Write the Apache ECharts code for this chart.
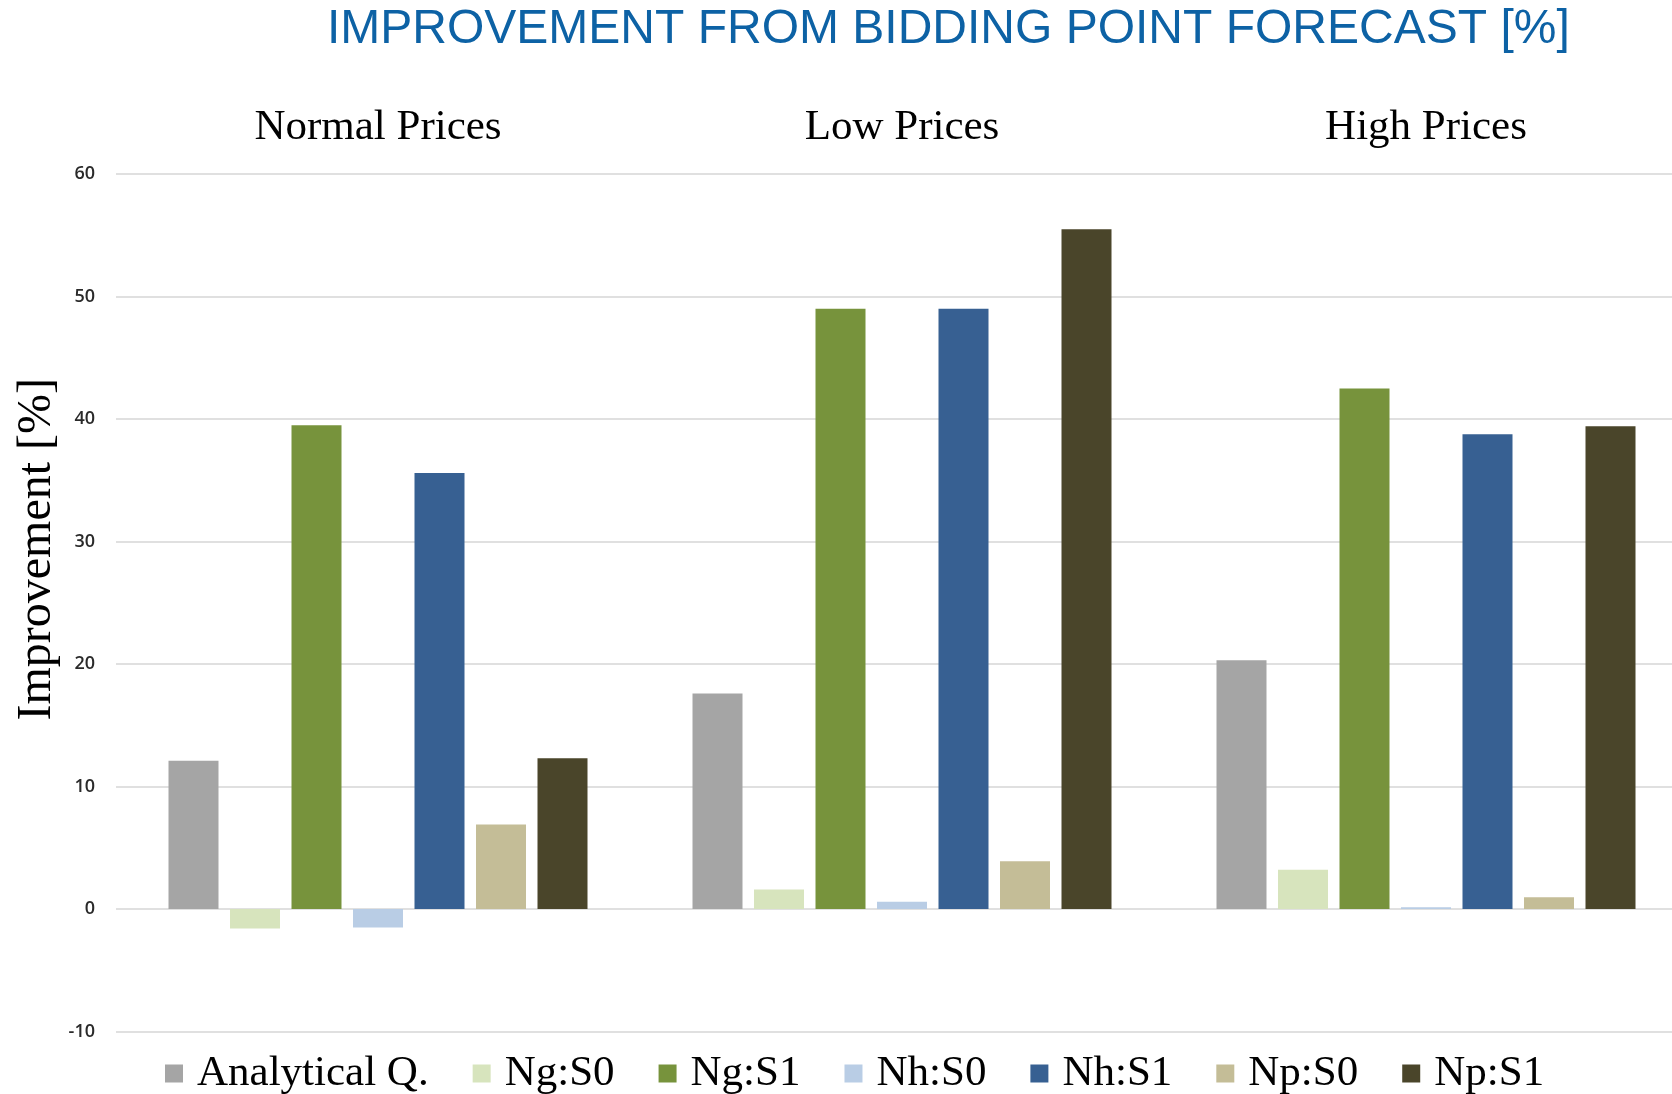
<!DOCTYPE html>
<html>
<head>
<meta charset="utf-8">
<script src="https://cdn.jsdelivr.net/npm/echarts@6/dist/echarts.min.js"></script>
<style>
html,body{margin:0;padding:0;background:#fff;}
#chart{width:1672px;height:1094px;}
</style>
</head>
<body>
<div id="chart"></div>
<script>
var categories = ['Normal Prices', 'Low Prices', 'High Prices'];
var seriesNames = ['Analytical Q.', 'Ng:S0', 'Ng:S1', 'Nh:S0', 'Nh:S1', 'Np:S0', 'Np:S1'];
var analyticalQ = [12.1, 17.6, 20.3];
var ngS0 = [-1.6, 1.6, 3.2];
var ngS1 = [39.5, 49.0, 42.5];
var nhS0 = [-1.5, 0.6, 0.15];
var nhS1 = [35.6, 49.0, 38.75];
var npS0 = [6.9, 3.9, 0.95];
var npS1 = [12.3, 55.5, 39.4];
var colors = ['#a5a5a5', '#d7e4bd', '#77933c', '#b9cde5', '#376092', '#c4bd97', '#4a452a'];
var yMin = -10, yMax = 60, yStep = 10;

var allValues = [analyticalQ, ngS0, ngS1, nhS0, nhS1, npS0, npS1];
var serif = '"Liberation Serif", "Times New Roman", serif';

var chart = echarts.init(document.getElementById('chart'), null, {renderer: 'canvas'});
chart.setOption({
  backgroundColor: '#ffffff',
  animation: false,
  color: colors,
  title: {
    text: 'IMPROVEMENT FROM BIDDING POINT FORECAST [%]',
    left: 322,
    top: 1,
    textStyle: {
      fontFamily: '"Liberation Sans", Arial, sans-serif',
      fontSize: 48,
      fontWeight: 'normal',
      color: '#0d62a5'
    }
  },
  grid: {left: 116, top: 174, width: 1572, height: 857.5, containLabel: false, outerBoundsMode: 'none'},
  legend: {
    data: seriesNames,
    left: 160,
    top: 1047,
    icon: 'rect',
    itemWidth: 18,
    itemHeight: 18,
    itemGap: 44,
    textStyle: {
      fontFamily: serif,
      fontSize: 43,
      color: '#000',
      padding: [0, 0, 0, 9]
    }
  },
  xAxis: {
    type: 'category',
    data: categories,
    position: 'top',
    axisLine: {show: false, onZero: false},
    axisTick: {show: false},
    axisLabel: {
      margin: 25,
      fontFamily: serif,
      fontSize: 43,
      color: '#000'
    }
  },
  yAxis: {
    type: 'value',
    min: yMin,
    max: yMax,
    interval: yStep,
    axisLine: {show: false},
    axisTick: {show: false},
    axisLabel: {
      margin: 21,
      fontFamily: '"Open Sans", "DejaVu Sans", sans-serif',
      fontSize: 18,
      fontWeight: 600,
      color: '#2a2a2a'
    },
    splitLine: {lineStyle: {color: '#e0e0e0', width: 2}}
  },
  graphic: [{
    type: 'text',
    left: 13,
    top: 378,
    style: {
      text: 'Improvement [%]',
      fontFamily: serif,
      fontSize: 48,
      fill: '#000'
    },
    rotation: Math.PI / 2,
    originX: 0,
    originY: 0
  }],
  series: seriesNames.map(function (name, i) {
    return {
      name: name,
      type: 'bar',
      data: allValues[i],
      barWidth: 50,
      barGap: '23%',
      itemStyle: {color: colors[i]}
    };
  })
});
</script>
</body>
</html>
